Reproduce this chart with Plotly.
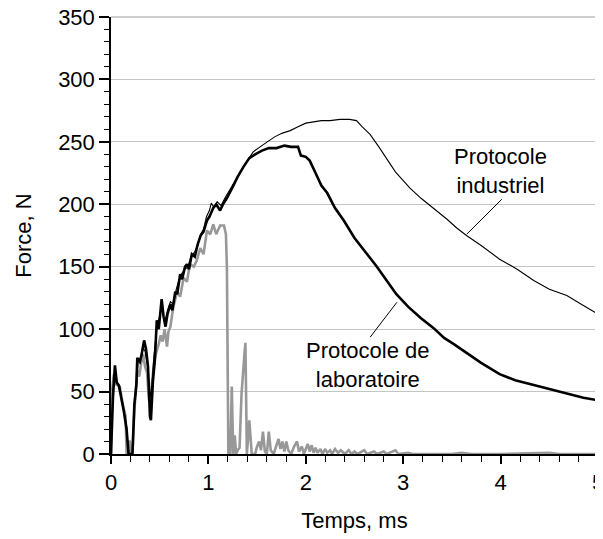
import plotly.graph_objects as go

# ---- data ----
t_lab = [0.00, 0.02, 0.04, 0.05, 0.06, 0.08, 0.10, 0.13, 0.16, 0.18, 0.22, 0.24, 0.26, 0.27, 0.29, 0.31,
         0.34, 0.36, 0.38, 0.40, 0.41, 0.43, 0.45, 0.47, 0.49, 0.52, 0.54, 0.56, 0.58, 0.61, 0.63, 0.66,
         0.68, 0.71, 0.73, 0.76, 0.78, 0.80, 0.83, 0.86, 0.89, 0.92, 0.95, 0.985, 1.01, 1.05, 1.08, 1.12,
         1.15, 1.19, 1.25, 1.30, 1.36, 1.42, 1.48, 1.55, 1.62, 1.70, 1.78, 1.85, 1.92, 1.95, 2.00, 2.04,
         2.10, 2.16, 2.22, 2.30, 2.39, 2.50, 2.63, 2.73, 2.83, 2.93, 3.05, 3.18, 3.31, 3.42, 3.52, 3.65,
         3.80, 3.99, 4.15, 4.30, 4.51, 4.70, 4.85, 5.00]
f_lab = [0, 45, 71, 65, 57, 55, 48, 35, 20, 0, 0, 40, 55, 77, 74, 78,
         91, 84, 70, 30, 27, 58, 75, 107, 100, 124, 110, 102, 112, 120, 115, 130,
         128, 144, 140, 150, 152, 148, 160, 158, 168, 175, 178, 187, 190, 197, 200, 195,
         200, 205, 214, 222, 230, 237, 240, 243, 245, 245, 247, 246, 246, 239, 238, 235,
         225, 215, 209, 197, 187, 173, 160, 150, 139, 128, 118, 109, 101, 93, 88, 81,
         73, 64, 59, 56, 52, 48, 45, 43]

t_ind = [0.00, 0.02, 0.04, 0.06, 0.09, 0.12, 0.16, 0.18, 0.22, 0.24, 0.26, 0.28, 0.30, 0.33, 0.35, 0.38,
         0.40, 0.42, 0.44, 0.47, 0.49, 0.52, 0.55, 0.58, 0.61, 0.64, 0.67, 0.70, 0.73, 0.76, 0.79, 0.82,
         0.86, 0.89, 0.92, 0.95, 0.98, 1.01, 1.03, 1.06, 1.09, 1.13, 1.17, 1.21, 1.27, 1.33, 1.40, 1.46,
         1.53, 1.60, 1.68, 1.76, 1.84, 1.92, 2.00, 2.08, 2.16, 2.25, 2.35, 2.45, 2.52, 2.58, 2.66, 2.75,
         2.83, 2.92, 3.00, 3.07, 3.18, 3.31, 3.45, 3.55, 3.65, 3.80, 3.99, 4.17, 4.34, 4.50, 4.68, 4.85,
         5.00]
f_ind = [0, 50, 68, 58, 54, 40, 22, 0, 0, 38, 52, 76, 72, 85, 82, 68,
         45, 55, 78, 100, 108, 118, 105, 115, 122, 120, 132, 140, 145, 148, 150, 158,
         162, 167, 176, 180, 190, 195, 201, 197, 202, 199, 205, 210, 218, 226, 235, 242,
         246, 250, 254, 257, 259, 262, 265, 266, 267, 267, 268, 268, 267, 262, 256, 246,
         237, 226, 219, 213, 205, 197, 188, 181, 175, 167, 156, 148, 139, 132, 127, 119,
         112]

t_gray = [0.00, 0.01, 0.03, 0.045, 0.07, 0.09, 0.12, 0.15, 0.16, 0.175, 0.19, 0.205, 0.22, 0.24, 0.27, 0.29,
          0.31, 0.33, 0.35, 0.37, 0.39, 0.41, 0.44, 0.46, 0.49, 0.51, 0.53, 0.55, 0.575, 0.59, 0.61, 0.64,
          0.68, 0.71, 0.745, 0.78, 0.81, 0.85, 0.88, 0.917, 0.95, 0.985, 1.02, 1.05, 1.08, 1.12, 1.16, 1.18,
          1.19, 1.205, 1.225, 1.24, 1.255, 1.27, 1.285, 1.30, 1.32, 1.34, 1.37, 1.38, 1.395, 1.42, 1.445, 1.48,
          1.50, 1.52, 1.54, 1.56, 1.58, 1.60, 1.62, 1.64, 1.67, 1.70, 1.72, 1.74, 1.76, 1.78, 1.80, 1.82,
          1.85, 1.88, 1.91, 1.93, 1.96, 1.98, 2.00, 2.02, 2.04, 2.06, 2.08, 2.10, 2.12, 2.15, 2.17, 2.20,
          2.22, 2.25, 2.27, 2.30, 2.33, 2.36, 2.40, 2.44, 2.47, 2.50, 2.53, 2.60, 2.63, 2.70, 2.73, 2.80,
          2.83, 2.92, 2.95, 3.05, 3.10, 3.50, 3.60, 3.70, 4.00, 4.50, 4.60, 5.00]
f_gray = [0, 50, 64, 56, 55, 54, 40, 30, 0, 0, 11, 0, 0, 35, 67, 62,
          73, 80, 70, 65, 43, 48, 72, 80, 88, 95, 90, 100, 86, 98, 102, 118,
          130, 126, 141, 138, 152, 150, 155, 165, 160, 179, 176, 184, 176, 183, 183, 176,
          149, 0, 0, 54, 0, 15, 0, 3, 5, 48, 80, 89, 0, 27, 0, 0,
          6, 10, 3, 18, 2, 0, 18, 3, 0, 8, 12, 4, 10, 2, 10, 3,
          0, 6, 10, 2, 6, 0, 4, 8, 2, 7, 1, 5, 1, 4, 0, 4,
          1, 3, 0, 4, 1, 3, 0, 3, 0, 2, 0, 3, 0, 2, 0, 2,
          0, 3, 0, 1, 0, 0, 1, 0, 0, 1, 0, 0]

x_ticks = [0, 1, 2, 3, 4, 5]
y_ticks = [0, 50, 100, 150, 200, 250, 300, 350]

FONT = "Liberation Sans"
FS = 22

fig = go.Figure()
fig.add_trace(go.Scatter(x=t_gray, y=f_gray, mode="lines",
                         line=dict(color="#989898", width=2.6), showlegend=False))
fig.add_trace(go.Scatter(x=t_ind, y=f_ind, mode="lines",
                         line=dict(color="black", width=1.1), showlegend=False))
fig.add_trace(go.Scatter(x=t_lab, y=f_lab, mode="lines",
                         line=dict(color="black", width=2.6), showlegend=False))

# the page body adds an 8 px offset; margins compensate for it
fig.update_layout(
    width=603, height=539,
    margin=dict(l=103, r=13, t=9, b=93),
    paper_bgcolor="white", plot_bgcolor="white",
    font=dict(family=FONT, size=FS, color="black"),
    xaxis=dict(range=[0, 5], tickvals=x_ticks, ticktext=[str(v) for v in x_ticks],
               showline=True, linecolor="black", linewidth=1.5, automargin=False,
               ticklabeloverflow="allow",
               ticks="outside", ticklen=8, tickwidth=1.5, tickcolor="black",
               minor=dict(dtick=0.2, ticks="outside", ticklen=6, tickwidth=1, tickcolor="black", showgrid=False),
               showgrid=False, zeroline=False,
               title=dict(text="Temps, ms", standoff=18, font=dict(size=FS)),
               tickfont=dict(size=FS)),
    yaxis=dict(range=[0, 350], tickvals=y_ticks, ticktext=[str(v) for v in y_ticks],
               showline=True, linecolor="black", linewidth=1.5, automargin=False,
               ticklabeloverflow="allow",
               ticks="outside", ticklen=10, tickwidth=1.5, tickcolor="black",
               minor=dict(dtick=10, ticks="outside", ticklen=5, tickwidth=1, tickcolor="black", showgrid=False),
               showgrid=True, gridcolor="#c4c4c4", gridwidth=1, zeroline=False,
               title=dict(text="Force, N", standoff=20, font=dict(size=FS)),
               tickfont=dict(size=FS)),
    shapes=[
        dict(type="line", xref="paper", yref="paper", x0=1, x1=1, y0=0, y1=1,
             line=dict(color="#a0a0a0", width=1.2)),
        dict(type="line", xref="paper", yref="paper", x0=0, x1=1, y0=1, y1=1,
             line=dict(color="#a0a0a0", width=1.2)),
        dict(type="line", xref="x", yref="y", x0=3.653, y0=176.1, x1=4.012, y1=204.0,
             line=dict(color="black", width=1)),
        dict(type="line", xref="x", yref="y", x0=2.661, y0=93.6, x1=2.935, y1=121.5,
             line=dict(color="black", width=1)),
    ],
    annotations=[
        dict(x=4.0, y=226.6, xref="x", yref="y", text="Protocole<br>industriel",
             showarrow=False, font=dict(size=FS)),
        dict(x=2.635, y=71.0, xref="x", yref="y", text="Protocole de<br>laboratoire",
             showarrow=False, font=dict(size=FS)),
    ],
)

fig.write_html("out.html")
